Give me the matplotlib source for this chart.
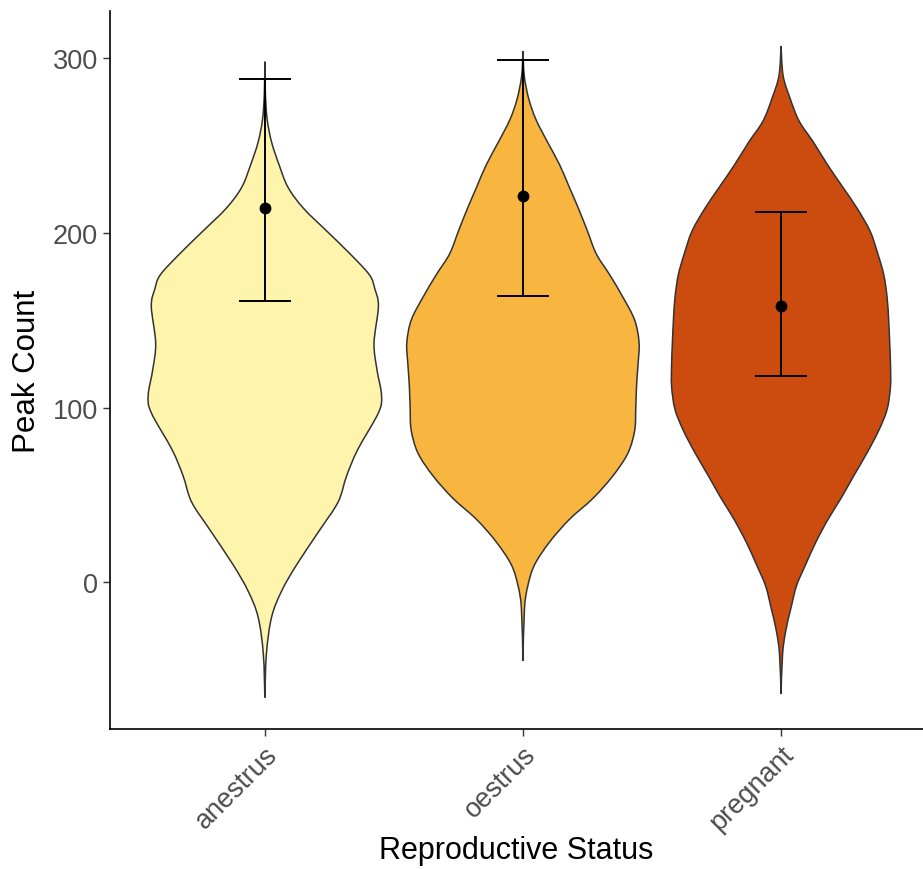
import numpy as np
import matplotlib.pyplot as plt
from matplotlib.path import Path
from matplotlib.patches import PathPatch

plt.rcParams['font.family'] = ['Liberation Sans', 'DejaVu Sans']

# groups
status = ['anestrus', 'oestrus', 'pregnant']
colors = ['#FEF4AC', '#F8B640', '#CC4B0E']

# mean and error bar limits (Peak Count)
means = [214, 221, 158]
err_low = [161, 164, 118]
err_high = [288, 299, 212]

# violin outlines: Peak Count levels and half-widths (category units)
anestrus_y = [-66, -41, -20, -5, 10, 30, 46, 61, 76, 97, 107, 122, 137, 158, 168,
              176, 188, 201, 214, 226, 239, 252, 265, 280, 298]
anestrus_w = [0.0, 0.006, 0.026, 0.065, 0.123, 0.213, 0.284, 0.317, 0.36, 0.44, 0.452,
              0.434, 0.423, 0.44, 0.426, 0.405, 0.33, 0.24, 0.15, 0.09, 0.055, 0.026,
              0.009, 0.002, 0.0]

oestrus_y = [-45, -15, -2, 10, 23, 36, 48, 61, 74, 87, 99, 112, 125, 137, 150, 163,
             176, 188, 201, 214, 226, 239, 252, 265, 277, 290, 304]
oestrus_w = [0.0, 0.006, 0.019, 0.045, 0.103, 0.18, 0.271, 0.349, 0.407, 0.433, 0.437,
             0.44, 0.446, 0.45, 0.433, 0.388, 0.336, 0.284, 0.25, 0.215, 0.18, 0.142,
             0.095, 0.05, 0.022, 0.005, 0.0]

pregnant_y = [-64, -41, -28, -15, -2, 10, 23, 36, 48, 61, 74, 87, 99, 112, 125, 137,
              150, 163, 176, 188, 201, 214, 226, 239, 252, 264, 277, 290, 307]
pregnant_w = [0.0, 0.006, 0.018, 0.038, 0.06, 0.095, 0.135, 0.182, 0.232, 0.282, 0.333,
              0.379, 0.411, 0.424, 0.424, 0.421, 0.417, 0.411, 0.398, 0.375, 0.345, 0.295,
              0.24, 0.18, 0.125, 0.07, 0.035, 0.008, 0.0]

outlines = [(anestrus_y, anestrus_w), (oestrus_y, oestrus_w), (pregnant_y, pregnant_w)]


def curve_through(pts):
    # cubic bezier pieces passing through every given point
    pts = np.asarray(pts, dtype=float)
    n = len(pts)
    out = []
    for i in range(n - 1):
        p0 = pts[i - 1] if i > 0 else pts[i]
        p1, p2 = pts[i], pts[i + 1]
        p3 = pts[i + 2] if i + 2 < n else pts[i + 1]
        out += [p1 + (p2 - p0) / 6, p2 - (p3 - p1) / 6, p2]
    return out


fig = plt.figure(figsize=(9.23, 8.7), dpi=100)
ax = fig.add_axes([110 / 923, 140 / 870, 813 / 923, 718 / 870])

for i, (ys, ws) in enumerate(outlines):
    pos = i + 1
    ys = np.array(ys, dtype=float)
    ws = np.array(ws)
    right = np.column_stack([pos + ws, ys])
    left = np.column_stack([pos - ws, ys])[::-1]
    verts = [right[0]] + curve_through(right) + curve_through(left) + [right[0]]
    codes = [Path.MOVETO] + [Path.CURVE4] * (len(verts) - 2) + [Path.CLOSEPOLY]
    ax.add_patch(PathPatch(Path(verts, codes), facecolor=colors[i],
                           edgecolor='#333333', lw=1.1, zorder=1))

x = np.arange(1, len(status) + 1)
means = np.array(means)
yerr = [means - np.array(err_low), np.array(err_high) - means]
ax.errorbar(x, means, yerr=yerr, fmt='o', color='black', ms=7.5, elinewidth=1.4,
            capsize=26 * 0.72, capthick=1.4, zorder=3)

ax.set_xlim(0.4, 3.55)
ax.set_ylim(-84, 327)
ax.set_xticks(x)
ax.set_xticklabels(status, rotation=45, ha='right', rotation_mode='anchor')
ax.set_yticks([0, 100, 200, 300])
ax.tick_params(axis='both', labelsize=19.5, labelcolor='#4D4D4D', color='#333333',
               length=5, width=1.0)
ax.set_xlabel('Reproductive Status', fontsize=22, labelpad=0)
ax.set_ylabel('Peak Count', fontsize=22.5, labelpad=8)

for s in ['top', 'right']:
    ax.spines[s].set_visible(False)
for s in ['left', 'bottom']:
    ax.spines[s].set_linewidth(1.2)
    ax.spines[s].set_color('black')

fig.savefig('out.png', dpi=100)
